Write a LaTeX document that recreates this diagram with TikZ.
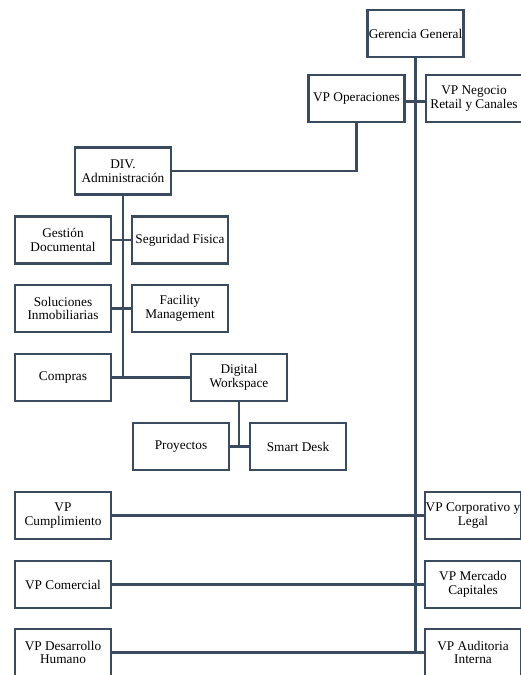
\documentclass[tikz,border=0pt]{standalone}
\usepackage{fontspec}
\setmainfont{Liberation Serif}
\definecolor{linecol}{HTML}{3A4A5F}
\begin{document}
\begin{tikzpicture}[x=1pt,y=-1pt,
  box/.style={draw=linecol, line width=2.4pt, fill=white, minimum width=96pt, minimum height=47pt,
    inner sep=0pt, align=center, font=\fontsize{13.3}{13.6}\selectfont, text=black},
  conn/.style={draw=linecol, line width=2.8pt}]
\useasboundingbox[fill=white] (0,0) rectangle (521,675);
\node[box] (gg) at (415.5,33.5) {Gerencia General};
\node[box] (vpop) at (356.5,98.5) {VP Operaciones};
\node[box] (vpneg) at (474,98.5) {VP Negocio\\Retail y Canales};
\node[box] (div) at (123,171) {DIV.\\Administración};
\node[box] (gd) at (63,240) {Gestión\\Documental};
\node[box] (sf) at (180,240) {Seguridad Fisica};
\node[box] (si) at (63,308.5) {Soluciones\\Inmobiliarias};
\node[box] (fm) at (180,308.5) {Facility\\Management};
\node[box] (co) at (63,377.5) {Compras};
\node[box] (dw) at (239,377.5) {Digital\\Workspace};
\node[box] (pr) at (181,446.5) {Proyectos};
\node[box] (sd) at (298,446.5) {Smart Desk};
\node[box] (vpc) at (63,515.5) {VP\\Cumplimiento};
\node[box] (vpcl) at (473,515.5) {VP Corporativo y\\Legal};
\node[box] (vpcom) at (63,584.5) {VP Comercial};
\node[box] (vpmc) at (473,584.5) {VP Mercado\\Capitales};
\node[box] (vpdh) at (63,652.5) {VP Desarrollo\\Humano};
\node[box] (vpai) at (473,652.5) {VP Auditoria\\Interna};
% connectors
\draw[conn] (gg.south) -- (gg.south |- vpai.west);
\draw[conn] ([yshift=-3pt]vpop.east) -- ([yshift=-3pt]vpneg.west);
\draw[conn] (vpop.south) |- (div.east);
\draw[conn] (div.south) -- (div.south |- co.east);
\draw[conn] (gd.east) -- (sf.west);
\draw[conn] (si.east) -- (fm.west);
\draw[conn] (co.east) -- (dw.west);
\draw[conn] (dw.south) -- (dw.south |- pr.east);
\draw[conn] (pr.east) -- (sd.west);
\draw[conn] (vpc.east) -- (vpcl.west);
\draw[conn] (vpcom.east) -- (vpmc.west);
\draw[conn] (vpdh.east) -- (vpai.west);
\end{tikzpicture}
\end{document}
